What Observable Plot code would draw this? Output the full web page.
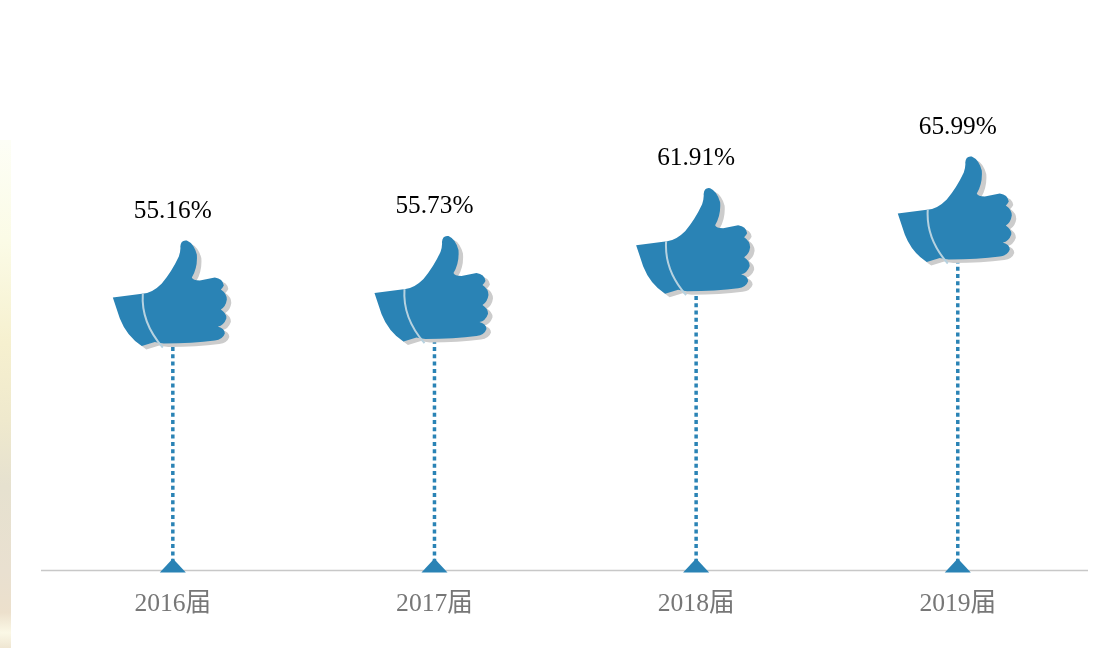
<!DOCTYPE html>
<html>
<head>
<meta charset="utf-8">
<script src="https://cdn.jsdelivr.net/npm/d3@7"></script>
<script src="https://cdn.jsdelivr.net/npm/@observablehq/plot@0.6"></script>
<style>
html,body{margin:0;padding:0;background:#fff;overflow:hidden}
#wrap{position:relative;width:1108px;height:648px}
#strip{position:absolute;left:0;top:140px;width:11px;height:508px;
background:linear-gradient(#fdfef6 0%,#fbfbe6 20%,#f6f0cf 40%,#efe9cd 55%,#e6e1cf 68%,#e9e0d0 85%,#ece0cc 93%,#fbf8e6 97%,#efe6d2 100%)}
#chart{position:absolute;left:0;top:0}
#chart svg{display:block;background:transparent;filter:blur(.35px)}
g[aria-label="thumb shadow"]{filter:blur(1px)}
</style>
</head>
<body>
<div id="wrap"><div id="strip"></div><div id="chart"></div></div>
<script>
const years = ["2016届","2017届","2018届","2019届"];
const rates = [55.16,55.73,61.91,65.99];
const labels = ["55.16%","55.73%","61.91%","65.99%"];
const yMin = 26.28, yMax = 99.77;
const blue = "#2a83b5";
const rows = years.map((year,i)=>({year,rate:rates[i],label:labels[i]}));

const hand = {draw(c){
  c.moveTo(-60,-49);
  c.lineTo(-29,-53);
  c.quadraticCurveTo(-20,-54,-11,-63);
  c.quadraticCurveTo(-1,-75,6,-90);
  c.quadraticCurveTo(8,-96,7.5,-100);
  c.quadraticCurveTo(8,-107,14,-106);
  c.quadraticCurveTo(21,-103,24,-92);
  c.quadraticCurveTo(25,-79,19,-69);
  c.quadraticCurveTo(20,-66,27,-66);
  c.lineTo(42,-69);
  c.quadraticCurveTo(50,-68,51,-61);
  c.quadraticCurveTo(50,-59,48,-57);
  c.quadraticCurveTo(54,-53,54,-47);
  c.quadraticCurveTo(53,-40,48,-37);
  c.quadraticCurveTo(54,-33,53.5,-28);
  c.quadraticCurveTo(51,-21,45,-20);
  c.quadraticCurveTo(52,-18,52,-13);
  c.quadraticCurveTo(50,-7,42,-6);
  c.quadraticCurveTo(20,-3,-9,-3);
  c.quadraticCurveTo(-15,-4,-18,-4.5);
  c.lineTo(-31,-0.5);
  c.quadraticCurveTo(-46,-10,-53,-28);
  c.closePath();
}};
const cuff = {draw(c){c.moveTo(-30,-53);c.quadraticCurveTo(-32,-24,-10,1);}};
const peak = {draw(c){c.moveTo(0,-12);c.lineTo(13,2);c.lineTo(-13,2);c.closePath();}};

const chart = Plot.plot({
  width:1108,height:648,marginLeft:41,marginRight:20,marginTop:0,marginBottom:78,
  style:{background:"transparent",fontFamily:"'Liberation Serif','Noto Sans CJK SC',serif"},
  x:{type:"band",domain:years,padding:0,round:false,range:[41.5,1088.1],label:null},
  y:{domain:[yMin,yMax],axis:null},
  marks:[
    Plot.axisX({tickSize:0,tickPadding:22,fontSize:25.6,color:"#777",fill:"#777",label:null}),
    Plot.ruleY([yMin],{stroke:"#c8c8c8",strokeWidth:1.5}),
    Plot.ruleX(rows,{x:"year",y1:yMin,y2:"rate",stroke:blue,strokeWidth:3.5,strokeDasharray:"4 3.3"}),
    Plot.dot(rows,{x:"year",y:yMin,symbol:peak,r:13,fill:blue,stroke:"none"}),
    Plot.dot(rows,{x:"year",y:"rate",symbol:hand,r:50,fill:"#cccccc",stroke:"none",dx:4.5,dy:3.5,ariaLabel:"thumb shadow"}),
    Plot.dot(rows,{x:"year",y:"rate",symbol:hand,r:50,fill:blue,stroke:"none"}),
    Plot.dot(rows,{x:"year",y:"rate",symbol:cuff,r:50,fill:"none",stroke:"#b7d2e0",strokeWidth:2}),
    Plot.text(rows,{x:"year",y:"rate",text:"label",dy:-137,fontSize:25.3,fill:"#000"})
  ]
});
document.getElementById("chart").appendChild(chart);
</script>
</body>
</html>
